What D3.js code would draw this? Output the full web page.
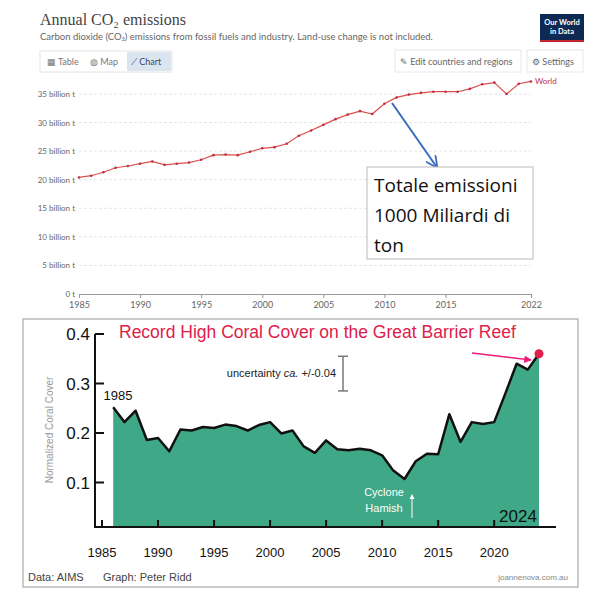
<!DOCTYPE html>
<html><head><meta charset="utf-8">
<script src="https://cdn.jsdelivr.net/npm/d3@7"></script>
<style>body{margin:0;background:#fff}svg{display:block}</style>
</head><body>
<script>
// top chart data (OWID)
var co2Years = d3.range(1985, 2023);
var co2Values = [20.4,20.7,21.3,22.1,22.4,22.8,23.2,22.6,22.8,23.0,23.5,24.3,24.4,24.3,24.9,25.5,25.7,26.3,27.7,28.6,
  29.6,30.6,31.4,32.0,31.5,33.3,34.4,34.9,35.2,35.4,35.4,35.4,35.9,36.7,37.0,35.0,36.8,37.2];
var co2Ticks = [0,5,10,15,20,25,30,35];
var co2YearTicks = [1985,1990,1995,2000,2005,2010,2015,2022];

// bottom chart data (coral cover)
var coralYears = d3.range(1986, 2025);
var coralValues = [.252,.222,.245,.186,.19,.163,.207,.205,.212,.21,.217,.214,.205,.216,.222,.199,.205,.173,.16,.185,
  .167,.165,.168,.165,.155,.124,.107,.143,.158,.157,.238,.182,.222,.218,.222,.28,.34,.328,.36];
var coralTicks = [0.1,0.2,0.3,0.4];
var coralYearTicks = [1985,1990,1995,2000,2005,2010,2015,2020];

var svg = d3.select("body").append("svg").attr("width", 600).attr("height", 596)
  .style("font-family", "Lato, sans-serif");

// ---------- top chart ----------
var topG = svg.append("g");
topG.append("text").attr("x", 40).attr("y", 25).attr("font-family", "Liberation Serif, serif")
  .attr("font-size", 16).attr("fill", "#444").text("Annual CO₂ emissions");
topG.append("text").attr("x", 40).attr("y", 40).attr("font-size", 9.5).attr("fill", "#666")
  .text("Carbon dioxide (CO₂) emissions from fossil fuels and industry. Land-use change is not included.");
// logo
topG.append("rect").attr("x", 540).attr("y", 14).attr("width", 44).attr("height", 26).attr("fill", "#0e2a52");
topG.append("rect").attr("x", 540).attr("y", 40).attr("width", 44).attr("height", 2).attr("fill", "#c2262e");
topG.append("text").attr("x", 562).attr("y", 25).attr("text-anchor", "middle").attr("font-size", 7.5)
  .attr("font-weight", "bold").attr("fill", "#fff").text("Our World");
topG.append("text").attr("x", 562).attr("y", 34).attr("text-anchor", "middle").attr("font-size", 7.5)
  .attr("font-weight", "bold").attr("fill", "#fff").text("in Data");
// buttons
topG.append("rect").attr("x", 40).attr("y", 51).attr("width", 132).attr("height", 21).attr("fill", "#fff").attr("stroke", "#e4e4e4");
topG.append("rect").attr("x", 127).attr("y", 52).attr("width", 44).attr("height", 19).attr("fill", "#dbe5f0");
[["▦ Table", 47, "#777"], ["◍ Map", 90, "#777"], ["⟋ Chart", 131, "#2f4a6e"]].forEach(function (b) {
  topG.append("text").attr("x", b[1]).attr("y", 65).attr("font-size", 9).attr("fill", b[2]).text(b[0]);
});
topG.append("rect").attr("x", 395).attr("y", 50).attr("width", 126).attr("height", 22).attr("fill", "#fff").attr("stroke", "#e8e8e8");
topG.append("text").attr("x", 400).attr("y", 65).attr("font-size", 9).attr("fill", "#666").text("✎ Edit countries and regions");
topG.append("rect").attr("x", 527).attr("y", 50).attr("width", 56).attr("height", 22).attr("fill", "#fff").attr("stroke", "#e8e8e8");
topG.append("text").attr("x", 532).attr("y", 65).attr("font-size", 9).attr("fill", "#666").text("⚙ Settings");

var x1 = d3.scaleLinear().domain([1985, 2022]).range([79, 531]);
var y1 = d3.scaleLinear().domain([0, 35]).range([294, 94]);
co2Ticks.forEach(function (t) {
  if (t > 0) topG.append("line").attr("x1", 79).attr("x2", 531).attr("y1", y1(t)).attr("y2", y1(t))
    .attr("stroke", "#e6e6e6").attr("stroke-dasharray", "3,2");
  topG.append("text").attr("x", 75).attr("y", y1(t) + 3).attr("text-anchor", "end").attr("font-size", 8)
    .attr("fill", "#666").text(t === 0 ? "0 t" : t + " billion t");
});
var xAxis1 = topG.append("g").attr("transform", "translate(0,294)")
  .call(d3.axisBottom(x1).tickValues(co2YearTicks).tickFormat(d3.format("d")).tickSize(4).tickPadding(4));
xAxis1.select(".domain").attr("stroke", "#999");
xAxis1.selectAll("line").attr("stroke", "#999");
xAxis1.selectAll("text").attr("fill", "#666").attr("font-size", 9).attr("font-family", "Lato, sans-serif");

var line1 = d3.line().x(function (d, i) { return x1(co2Years[i]); }).y(function (d) { return y1(d); });
topG.append("path").datum(co2Values).attr("d", line1).attr("fill", "none").attr("stroke", "#ce261e").attr("stroke-width", 1.2).attr("stroke-opacity", 0.8);
topG.selectAll("circle.p").data(co2Values).enter().append("circle")
  .attr("cx", function (d, i) { return x1(co2Years[i]); }).attr("cy", function (d) { return y1(d); })
  .attr("r", 1.3).attr("fill", "#c42b45");
topG.append("text").attr("x", 535).attr("y", y1(37.2) + 3).attr("font-size", 8).attr("fill", "#c42b45").text("World");

// annotation
var defs = svg.append("defs");
defs.append("marker").attr("id", "ab").attr("viewBox", "0 0 10 10").attr("refX", 8).attr("refY", 5)
  .attr("markerWidth", 6).attr("markerHeight", 6).attr("orient", "auto")
  .append("path").attr("d", "M0,0 L10,5 L0,10").attr("fill", "none").attr("stroke", "#3a6bbf").attr("stroke-width", 1.5);
topG.append("line").attr("x1", 392).attr("y1", 103).attr("x2", 436).attr("y2", 166)
  .attr("stroke", "#3a6bbf").attr("stroke-width", 2).attr("marker-end", "url(#ab)");
topG.append("rect").attr("x", 367).attr("y", 167).attr("width", 166).attr("height", 92).attr("fill", "#fff").attr("stroke", "#bbb");
["Totale emissioni", "1000 Miliardi di", "ton"].forEach(function (t, i) {
  topG.append("text").attr("x", 374).attr("y", 192 + i * 30).attr("font-family", "Open Sans, sans-serif")
    .attr("font-size", 19).attr("fill", "#111").text(t);
});

// ---------- bottom chart ----------
var bot = svg.append("g").style("font-family", "Liberation Sans, Arial, sans-serif");
bot.append("rect").attr("x", 23).attr("y", 319).attr("width", 555).attr("height", 268).attr("fill", "#fff").attr("stroke", "#999");
var x2 = d3.scaleLinear().domain([1985, 2024]).range([102, 539]);
var y2 = d3.scaleLinear().domain([0, 0.4]).range([532, 334]);
var base = 527;

var area2 = d3.area().x(function (d, i) { return x2(coralYears[i]); }).y0(base).y1(function (d) { return y2(d); });
bot.append("path").datum(coralValues).attr("d", area2).attr("fill", "#3fa886");
var line2 = d3.line().x(function (d, i) { return x2(coralYears[i]); }).y(function (d) { return y2(d); });
bot.append("path").datum(coralValues).attr("d", line2).attr("fill", "none").attr("stroke", "#111").attr("stroke-width", 2.5).attr("stroke-linejoin", "round");

// axes
bot.append("line").attr("x1", 95).attr("x2", 95).attr("y1", 334).attr("y2", base).attr("stroke", "#111").attr("stroke-width", 2);
bot.append("line").attr("x1", 94).attr("x2", 556).attr("y1", base).attr("y2", base).attr("stroke", "#111").attr("stroke-width", 2);
coralTicks.forEach(function (t) {
  bot.append("line").attr("x1", 95).attr("x2", 104).attr("y1", y2(t)).attr("y2", y2(t)).attr("stroke", "#111").attr("stroke-width", 2);
  bot.append("text").attr("x", 90).attr("y", y2(t) + 6).attr("text-anchor", "end").attr("font-size", 17).attr("fill", "#111").text(t.toFixed(1));
});
coralYearTicks.forEach(function (t) {
  bot.append("line").attr("x1", x2(t)).attr("x2", x2(t)).attr("y1", base - 7).attr("y2", base).attr("stroke", "#111").attr("stroke-width", 2);
  bot.append("text").attr("x", x2(t)).attr("y", 557).attr("text-anchor", "middle").attr("font-size", 13).attr("fill", "#111").text(t);
});
bot.append("text").attr("transform", "translate(53,430) rotate(-90)").attr("text-anchor", "middle")
  .attr("font-size", 10).attr("fill", "#999").text("Normalized Coral Cover");

bot.append("text").attr("x", 119).attr("y", 338).attr("font-size", 17.5).attr("fill", "#e0204a").text("Record High Coral Cover on the Great Barrier Reef");
defs.append("marker").attr("id", "ap").attr("viewBox", "0 0 10 10").attr("refX", 9).attr("refY", 5)
  .attr("markerWidth", 5).attr("markerHeight", 5).attr("orient", "auto")
  .append("path").attr("d", "M0,0 L10,5 L0,10 Z").attr("fill", "#ee1a7a");
bot.append("line").attr("x1", 472).attr("y1", 353).attr("x2", 531).attr("y2", 360)
  .attr("stroke", "#ee1a7a").attr("stroke-width", 1.5).attr("marker-end", "url(#ap)");
bot.append("circle").attr("cx", x2(2024)).attr("cy", y2(0.36)).attr("r", 4.5).attr("fill", "#e0204a");

bot.append("text").attr("x", 118).attr("y", 400).attr("text-anchor", "middle").attr("font-size", 13).attr("fill", "#111").text("1985");
bot.append("text").attr("x", 518).attr("y", 522).attr("text-anchor", "middle").attr("font-size", 17).attr("fill", "#111").text("2024");

// uncertainty bar
bot.append("line").attr("x1", 343).attr("x2", 343).attr("y1", y2(0.355)).attr("y2", y2(0.285)).attr("stroke", "#777").attr("stroke-width", 1.5);
[0.355, 0.285].forEach(function (v) {
  bot.append("line").attr("x1", 338).attr("x2", 348).attr("y1", y2(v)).attr("y2", y2(v)).attr("stroke", "#777").attr("stroke-width", 1.5);
});
var ut = bot.append("text").attr("x", 336).attr("y", 377).attr("text-anchor", "end").attr("font-size", 11).attr("fill", "#222");
ut.append("tspan").text("uncertainty ");
ut.append("tspan").attr("font-style", "italic").text("ca.");
ut.append("tspan").text(" +/-0.04");

bot.append("text").attr("x", 384).attr("y", 524 - 28).attr("text-anchor", "middle").attr("font-size", 11).attr("fill", "#fff").text("Cyclone");
bot.append("text").attr("x", 384).attr("y", 524 - 12).attr("text-anchor", "middle").attr("font-size", 11).attr("fill", "#fff").text("Hamish");
bot.append("line").attr("x1", 412).attr("x2", 412).attr("y1", 518).attr("y2", 496).attr("stroke", "#fff").attr("stroke-width", 1);
bot.append("path").attr("d", "M409.5,499 L412,494 L414.5,499 Z").attr("fill", "#fff");

bot.append("text").attr("x", 28).attr("y", 581).attr("font-size", 11).attr("fill", "#444").text("Data: AIMS");
bot.append("text").attr("x", 103).attr("y", 581).attr("font-size", 11).attr("fill", "#444").text("Graph: Peter Ridd");
bot.append("text").attr("x", 568).attr("y", 580).attr("text-anchor", "end").attr("font-size", 8).attr("fill", "#888").text("joannenova.com.au");
</script>
</body></html>
